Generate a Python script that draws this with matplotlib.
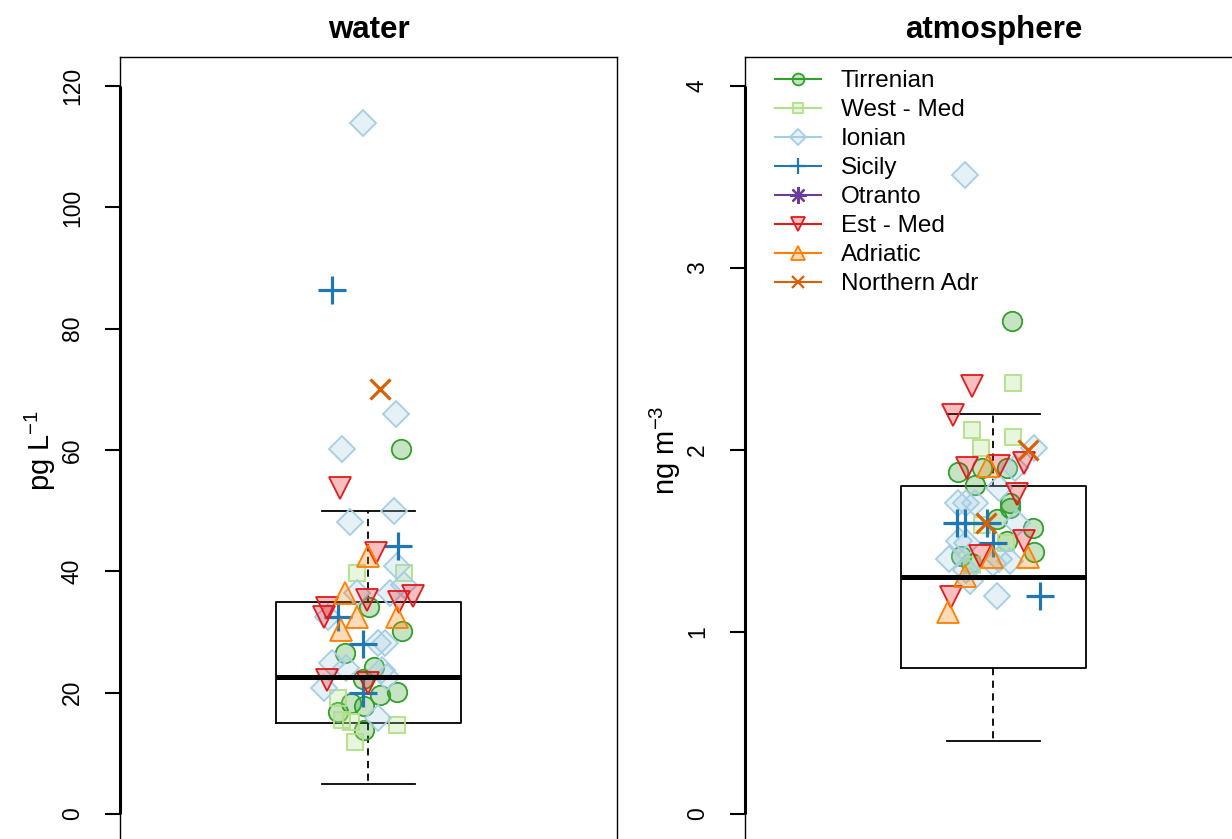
import matplotlib
matplotlib.use("Agg")
import matplotlib.pyplot as plt
from matplotlib.colors import to_rgba
from matplotlib.lines import Line2D

plt.rcParams["font.family"] = ["Liberation Sans", "DejaVu Sans"]
plt.rcParams["mathtext.fontset"] = "custom"
plt.rcParams["mathtext.rm"] = "Liberation Sans"
plt.rcParams["mathtext.it"] = "Liberation Sans:italic"

# --- data ------------------------------------------------------------------
regions = ["Tirrenian", "West - Med", "Ionian", "Sicily", "Otranto",
           "Est - Med", "Adriatic", "Northern Adr"]
colors = ["#33a02c", "#b2df8a", "#a6cee3", "#1f78b4", "#6a3d9a",
          "#e31a1c", "#ff7f00", "#d95f02"]
markers = ["o", "s", "D", "+", (8, 2, 0), "v", "^", "x"]

water_box = dict(whislo=5.0, q1=15.0, med=22.5, q3=35.0, whishi=50.0)
atm_box = dict(whislo=0.4, q1=0.8, med=1.3, q3=1.8, whishi=2.2)

# jittered x position and concentration, per region (water, pg/L)
water_x = {
    "Tirrenian": [1.070, 1.002, 1.072, 0.948, 1.013, 0.987, 1.026, 1.061, 0.963, 0.991, 0.933, 0.991],
    "West - Med": [0.974, 1.078, 0.933, 0.943, 0.963, 1.061, 0.970],
    "Ionian": [0.987, 1.059, 0.943, 0.959, 1.056, 1.061, 1.078, 1.046, 0.974, 1.020, 1.035,
               0.920, 0.952, 1.030, 1.041, 0.904, 1.020, 0.911],
    "Sicily": [0.920, 1.065, 0.933, 0.989, 0.987],
    "Otranto": [],
    "Est - Med": [0.937, 1.017, 0.996, 1.096, 1.067, 0.909, 0.904, 0.909, 1.000],
    "Adriatic": [1.000, 0.948, 0.976, 0.941, 1.063],
    "Northern Adr": [1.024],
}
water_y = {
    "Tirrenian": [60.1, 34.1, 30.1, 26.5, 24.2, 22.2, 19.6, 20.1, 18.3, 17.8, 16.8, 13.8],
    "West - Med": [39.8, 39.8, 19.1, 15.5, 15.1, 14.7, 11.9],
    "Ionian": [113.9, 66.0, 60.1, 48.1, 50.0, 40.8, 37.7, 36.5, 36.4, 28.1, 28.1,
               24.9, 24.0, 23.7, 22.6, 20.7, 15.8, 32.4],
    "Sicily": [86.4, 44.1, 32.4, 28.0, 19.9],
    "Otranto": [],
    "Est - Med": [53.7, 43.0, 35.2, 36.0, 34.9, 33.9, 32.4, 22.1, 21.6],
    "Adriatic": [42.5, 36.4, 32.4, 30.3, 32.4],
    "Northern Adr": [70.1],
}

# atmosphere, ng/m3
atm_x = {
    "Tirrenian": [1.041, 0.922, 0.974, 1.030, 0.959, 1.035, 1.035, 1.007, 1.085, 1.030, 1.089, 0.930, 0.952],
    "West - Med": [1.043, 0.954, 1.043, 0.972, 0.974, 1.028, 0.954],
    "Ionian": [0.937, 1.089, 1.046, 1.013, 0.922, 0.941, 0.959, 1.050, 0.926, 0.943,
               0.904, 1.035, 1.013, 0.998, 0.948, 1.007, 0.941],
    "Sicily": [0.920, 0.937, 0.985, 0.998, 1.100],
    "Otranto": [],
    "Est - Med": [0.954, 0.913, 1.067, 0.943, 1.013, 1.052, 1.067, 0.970, 0.907],
    "Adriatic": [0.989, 0.996, 1.074, 0.939, 0.902],
    "Northern Adr": [1.074, 0.983],
}
atm_y = {
    "Tirrenian": [2.71, 1.88, 1.90, 1.90, 1.81, 1.71, 1.68, 1.62, 1.57, 1.50, 1.44, 1.42, 1.38],
    "West - Med": [2.37, 2.11, 2.07, 2.01, 1.59, 1.49, 1.37],
    "Ionian": [3.51, 2.01, 1.90, 1.79, 1.71, 1.71, 1.71, 1.60, 1.50, 1.49,
               1.40, 1.39, 1.40, 1.38, 1.28, 1.20, 1.34],
    "Sicily": [1.60, 1.60, 1.60, 1.49, 1.20],
    "Otranto": [],
    "Est - Med": [2.35, 2.19, 1.93, 1.90, 1.91, 1.76, 1.50, 1.42, 1.19],
    "Adriatic": [1.91, 1.41, 1.41, 1.31, 1.11],
    "Northern Adr": [2.00, 1.60],
}

# marker size / edge width used for the jittered points
msize = {"o": 14, "s": 11, "D": 13, "+": 20, "v": 16.5, "^": 16.5, "x": 14}
lsize = {"o": 8.5, "s": 7.5, "D": 8.5, "+": 12, "v": 10, "^": 10, "x": 9}


def _draw_panel(ax, title, box, xs, ys, ymax, yticks, ylabel):
    ax.bxp([box], positions=[1], widths=0.4, showfliers=False,
           boxprops=dict(color="black", lw=1.3),
           whiskerprops=dict(color="black", lw=1.3, linestyle=(0, (4, 3))),
           capprops=dict(color="black", lw=1.3),
           medianprops=dict(color="black", lw=3.6, solid_capstyle="butt"))
    for name, col, mk in zip(regions, colors, markers):
        if not xs[name]:
            continue
        key = mk if isinstance(mk, str) else "+"
        filled = mk in ("o", "s", "D", "v", "^")
        ax.plot(xs[name], ys[name], linestyle="none", marker=mk,
                markersize=msize.get(key, 14),
                markeredgecolor=col,
                markerfacecolor=to_rgba(col, 0.28) if filled else col,
                markeredgewidth=1.3 if filled else 2.3)
    pad = 0.04 * ymax
    ax.set_xlim(0.46, 1.54)
    ax.set_ylim(-pad, ymax + pad)
    ax.set_xticks([])
    ax.set_yticks(yticks)
    ax.set_yticklabels([str(t) for t in yticks], rotation=90, va="center",
                       fontsize=16.5)
    ax.tick_params(axis="y", length=11, width=1.5, pad=15)
    for sp in ax.spines.values():
        sp.set_linewidth(1.0)
    ax.plot([0.46, 0.46], [0, ymax], color="black", lw=2.2, clip_on=False,
            solid_capstyle="butt")
    ax.set_title(title, fontsize=22.5, fontweight="bold", pad=14)
    ax.set_ylabel(ylabel, fontsize=21, labelpad=2)


W, H = 1232, 839
fig = plt.figure(figsize=(W / 100, H / 100), dpi=100)
ax1 = fig.add_axes([120 / W, (H - 843) / H, 497 / W, 786 / H])
ax2 = fig.add_axes([745 / W, (H - 843) / H, 497 / W, 786 / H])

_draw_panel(ax1, "water", water_box, water_x, water_y, 120,
            [0, 20, 40, 60, 80, 100, 120], "pg L$^{-1}$")
_draw_panel(ax2, "atmosphere", atm_box, atm_x, atm_y, 4,
            [0, 1, 2, 3, 4], "ng m$^{-3}$")

handles = []
for name, col, mk in zip(regions, colors, markers):
    key = mk if isinstance(mk, str) else "+"
    filled = mk in ("o", "s", "D", "v", "^")
    handles.append(Line2D([], [], color=col, lw=1.5, marker=mk,
                          markersize=lsize.get(key, 10),
                          markeredgecolor=col,
                          markerfacecolor=to_rgba(col, 0.28) if filled else col,
                          markeredgewidth=1.3 if filled else 1.6))
fig.legend(handles, regions, loc="upper left",
           bbox_to_anchor=(775 / W, 1 - 70 / H), frameon=False,
           fontsize=17.5, handlelength=1.9, handletextpad=0.8,
           labelspacing=0.29, borderpad=0, borderaxespad=0)

fig.savefig("out.png", dpi=100)
